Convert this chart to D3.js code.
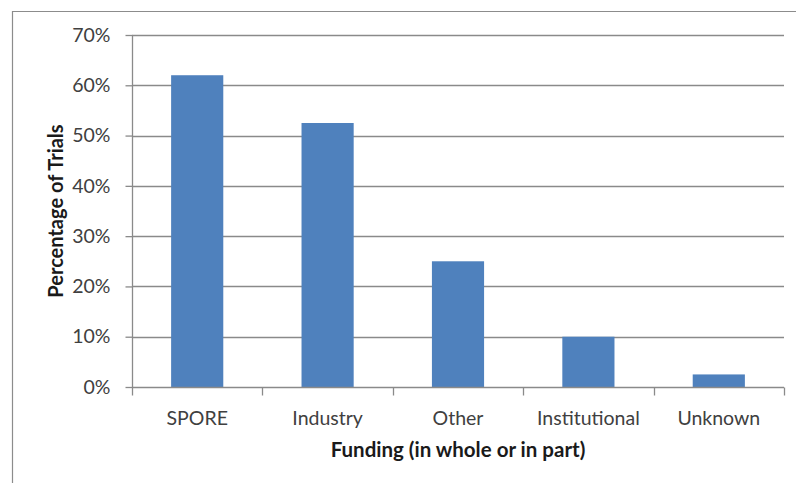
<!DOCTYPE html>
<html>
<head>
<meta charset="utf-8">
<script src="https://cdn.jsdelivr.net/npm/d3@7"></script>
<style>
  html, body { margin: 0; padding: 0; background: #fff; }
  svg { display: block; }
  text { font-family: Lato, "Open Sans", sans-serif; }
</style>
</head>
<body>
<div id="chart"></div>
<script>
const categories = ["SPORE", "Industry", "Other", "Institutional", "Unknown"];
const values = [0.62, 0.525, 0.25, 0.10, 0.025];
const yTicks = [0, 0.1, 0.2, 0.3, 0.4, 0.5, 0.6, 0.7];
const xTitle = "Funding (in whole or in part)";
const yTitle = "Percentage of Trials";

(function () {
const W = 796, H = 483;
const svg = d3.select("#chart").append("svg").attr("width", W).attr("height", H);

// outer frame
svg.append("path")
  .attr("d", `M12.5,${H} L12.5,11.5 L${W},11.5`)
  .attr("fill", "none").attr("stroke", "#8c8c8c").attr("stroke-width", 1.2);

const pL = 132, pR = 784, pT = 35, pB = 387;

const x = d3.scaleBand().domain(categories).range([pL, pR]).paddingInner(0.6).paddingOuter(0.3);
const xb = d3.scaleBand().domain(categories).range([pL, pR]);
const y = d3.scaleLinear().domain([0, 0.7]).range([pB, pT]);

// gridlines
svg.append("g").selectAll("line").data(yTicks.filter(d => d > 0)).join("line")
  .attr("x1", pL).attr("x2", pR)
  .attr("y1", d => Math.round(y(d)) + 0.5).attr("y2", d => Math.round(y(d)) + 0.5)
  .attr("stroke", "#8a8a8a").attr("stroke-width", 1.3);

// bars
svg.append("g").selectAll("rect").data(values).join("rect")
  .attr("x", (d, i) => x(categories[i]))
  .attr("width", x.bandwidth())
  .attr("y", d => y(d))
  .attr("height", d => y(0) - y(d))
  .attr("fill", "#4f81bd");

// y axis
const yAxis = d3.axisLeft(y).tickValues(yTicks).tickFormat(d3.format(".0%")).tickSize(7).tickPadding(15);
const gy = svg.append("g").attr("transform", `translate(${pL + 0.5},0)`).call(yAxis);
gy.select(".domain").attr("stroke", "#8a8a8a").attr("stroke-width", 1.3).attr("d", `M0,${pB}V${pT}`);
gy.selectAll(".tick line").attr("stroke", "#8a8a8a").attr("stroke-width", 1.3);
gy.selectAll(".tick text").attr("fill", "#404040").style("font-size", "19.5px").style("font-family", "Lato, sans-serif");

// x axis
const xAxis = d3.axisBottom(xb).tickSize(0).tickPadding(24);
const gx = svg.append("g").attr("transform", `translate(0,${pB + 0.5})`).call(xAxis);
gx.select(".domain").attr("stroke", "#8a8a8a").attr("stroke-width", 1.3).attr("d", `M${pL},0H${pR}`);
gx.selectAll(".tick text").attr("fill", "#404040").style("font-size", "19.5px").style("font-family", "Lato, sans-serif");
// category boundary ticks
const bounds = categories.map(c => xb(c)).concat([pR]);
gx.append("g").selectAll("line").data(bounds).join("line")
  .attr("x1", d => Math.round(d) + 0.5).attr("x2", d => Math.round(d) + 0.5)
  .attr("y1", 0).attr("y2", 8)
  .attr("stroke", "#8a8a8a").attr("stroke-width", 1.3);

// axis titles
svg.append("text")
  .attr("x", (pL + pR) / 2).attr("y", 457)
  .attr("text-anchor", "middle")
  .attr("fill", "#1a1a1a").style("font-size", "20.5px").style("font-weight", "bold")
  .text(xTitle);

svg.append("text")
  .attr("transform", `translate(63,${(pT + pB) / 2}) rotate(-90)`)
  .attr("text-anchor", "middle")
  .attr("fill", "#1a1a1a").style("font-size", "20px").style("font-weight", "bold")
  .text(yTitle);
})();
</script>
</body>
</html>
